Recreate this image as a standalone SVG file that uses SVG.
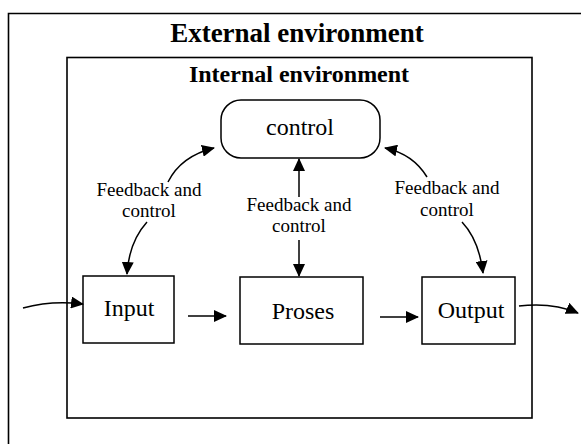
<svg xmlns="http://www.w3.org/2000/svg" width="581" height="444" viewBox="0 0 581 444">
  <style>
    .frame { fill: none; stroke: #000; stroke-width: 1.6; }
    .box { fill: #fff; stroke: #000; stroke-width: 1.5; }
    .link { fill: none; stroke: #000; stroke-width: 1.5; }
    .title { font-family: "Liberation Serif", "Times New Roman", serif; font-weight: bold; fill: #000; text-anchor: middle; }
    .label { font-family: "Liberation Serif", "Times New Roman", serif; font-size: 24px; fill: #000; text-anchor: middle; }
    .note { font-family: "Liberation Serif", "Times New Roman", serif; font-size: 19px; fill: #000; text-anchor: middle; }
  </style>
  <defs>
    <marker id="head" markerWidth="13" markerHeight="12" refX="12" refY="6" orient="auto" markerUnits="userSpaceOnUse">
      <path d="M0,0 L13,6 L0,12 Z" fill="#000"/>
    </marker>
  </defs>
  <rect width="581" height="444" fill="#fff"/>

  <!-- external environment frame (open to the right and bottom) -->
  <g id="external">
    <path class="frame" d="M8.5,446 V13.5 H583"/>
    <text class="title" x="297" y="42" font-size="27">External environment</text>
  </g>

  <!-- internal environment frame -->
  <g id="internal">
    <rect class="frame" x="67" y="57.5" width="465" height="360.5"/>
    <text class="title" x="299" y="82" font-size="24">Internal environment</text>
  </g>

  <g id="control">
    <rect class="box" x="221" y="100" width="159" height="58" rx="20" ry="20"/>
    <text class="label" x="300" y="135">control</text>
  </g>

  <g id="input">
    <rect class="box" x="83" y="276" width="91" height="67"/>
    <text class="label" x="129" y="316">Input</text>
  </g>

  <g id="proses">
    <rect class="box" x="240" y="277" width="123" height="67"/>
    <text class="label" x="303" y="319">Proses</text>
  </g>

  <g id="output">
    <rect class="box" x="422" y="277" width="93" height="67"/>
    <text class="label" x="471" y="318">Output</text>
  </g>

  <g id="connectors">
    <!-- feedback loops between control and the three stages -->
    <path class="link" d="M168,182 Q181,156 214,148" marker-end="url(#head)"/>
    <path class="link" d="M147,222 Q129,242 127,274" marker-end="url(#head)"/>
    <path class="link" d="M299,197 V159" marker-end="url(#head)"/>
    <path class="link" d="M299,240 V276" marker-end="url(#head)"/>
    <path class="link" d="M427,177 Q413,154 385,148" marker-end="url(#head)"/>
    <path class="link" d="M462,222 Q479,240 483,273" marker-end="url(#head)"/>
    <!-- main flow -->
    <path class="link" d="M23,308 Q52,300 83,304" marker-end="url(#head)"/>
    <path class="link" d="M188,316 H226" marker-end="url(#head)"/>
    <path class="link" d="M380,317 H418" marker-end="url(#head)"/>
    <path class="link" d="M519,306 Q552,302 578,313" marker-end="url(#head)"/>
  </g>

  <g id="feedback-labels">
    <text class="note" x="149" y="196">Feedback and</text>
    <text class="note" x="149" y="217">control</text>
    <text class="note" x="299" y="211">Feedback and</text>
    <text class="note" x="299" y="232">control</text>
    <text class="note" x="447" y="194">Feedback and</text>
    <text class="note" x="447" y="216">control</text>
  </g>
</svg>
